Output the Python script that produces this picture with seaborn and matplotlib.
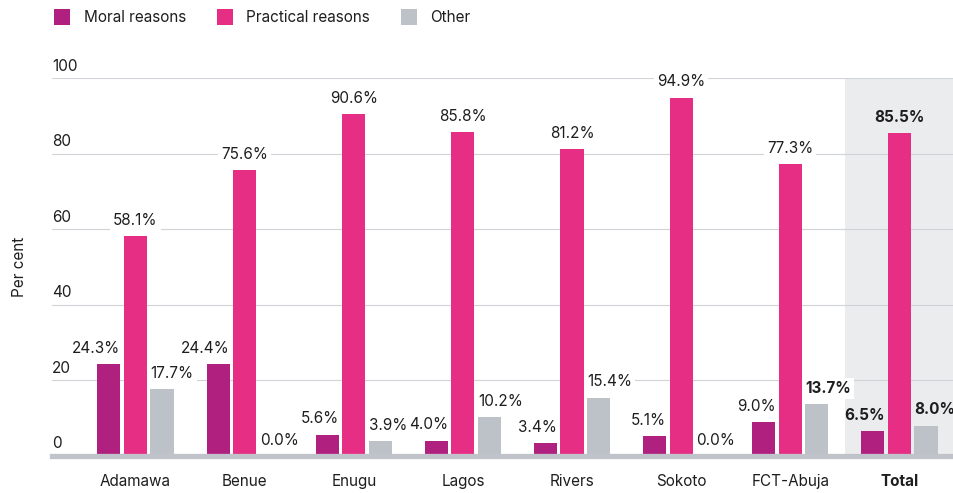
import matplotlib
matplotlib.use("Agg")
import matplotlib.pyplot as plt
from matplotlib.transforms import ScaledTranslation
import seaborn as sns
import pandas as pd

# Data
regions = ["Adamawa", "Benue", "Enugu", "Lagos", "Rivers", "Sokoto", "FCT-Abuja", "Total"]
moral = [24.3, 24.4, 5.6, 4.0, 3.4, 5.1, 9.0, 6.5]
practical = [58.1, 75.6, 90.6, 85.8, 81.2, 94.9, 77.3, 85.5]
other = [17.7, 0.0, 3.9, 10.2, 15.4, 0.0, 13.7, 8.0]
series = ["Moral reasons", "Practical reasons", "Other"]
yticks = [0, 20, 40, 60, 80, 100]
bold_labels = {("FCT-Abuja", "Other")}

colors = ["#B0207F", "#E62E84", "#BDC1C8"]
text_color = "#1E1E1E"

sns.set_theme(style="white")
plt.rcParams["font.family"] = ["Inter", "DejaVu Sans"]
plt.rcParams["text.color"] = text_color

df = pd.DataFrame({
    "Region": regions * 3,
    "Reason": [s for s in series for _ in regions],
    "Value": moral + practical + other,
})

fig = plt.figure(figsize=(9.54, 4.93), dpi=100)
ax = fig.add_axes([52 / 954, 37.3 / 493, 902 / 954, 377.4 / 493])

# Highlight band behind the total group
ax.axvspan(6.5, 7.5, color="#EBECEE", zorder=0, lw=0)

sns.barplot(data=df, x="Region", y="Value", hue="Reason", order=regions,
            hue_order=series, palette=colors, width=0.73, gap=0.13,
            errorbar=None, saturation=1, ax=ax, zorder=2,
            edgecolor="none", linewidth=0)

ax.set_xlim(-0.765, 7.5)
ax.set_ylim(0, 100)

# Grid and baseline
ax.set_yticks(yticks)
ax.yaxis.grid(True, color="#D0D3D8", lw=0.8, zorder=1)
ax.xaxis.grid(False)
for side in ["top", "right", "left"]:
    ax.spines[side].set_visible(False)
ax.spines["bottom"].set_color("#C0C4CA")
ax.spines["bottom"].set_linewidth(3.8)
ax.spines["bottom"].set_zorder(3)

# Y tick labels sit above their gridlines, inside the plot
ax.tick_params(axis="y", length=0, pad=0, labelsize=11, labelcolor=text_color)
offset = ScaledTranslation(0, 5.5 / 72, fig.dpi_scale_trans)
for lab in ax.get_yticklabels():
    lab.set_ha("left")
    lab.set_va("baseline")
    lab.set_transform(lab.get_transform() + offset)

ax.tick_params(axis="x", length=0, pad=13, labelsize=11, labelcolor=text_color)
for lab in ax.get_xticklabels():
    if lab.get_text() == "Total":
        lab.set_fontweight("bold")

ax.set_xlabel("")
ax.set_ylabel("Per cent", fontsize=11, color=text_color)
ax.yaxis.set_label_coords(-0.028, 0.5)

# Value labels
values = [moral, practical, other]
aligns = ["right", "center", "left"]
for cont, name, vals, ha in zip(ax.containers, series, values, aligns):
    for bar, region, v in zip(cont.patches, regions, vals):
        if ha == "right":
            x = bar.get_x() + bar.get_width()
        elif ha == "left":
            x = bar.get_x()
        else:
            x = bar.get_x() + bar.get_width() / 2
        is_total = region == "Total"
        bold = is_total or (region, name) in bold_labels
        kw = {}
        if not is_total:
            kw["bbox"] = dict(boxstyle="square,pad=0.2", fc="white", ec="none")
        ax.annotate(f"{v:.1f}%", (x, v), xytext=(0, 8), textcoords="offset points",
                    ha=ha, va="baseline", fontsize=11,
                    fontweight="bold" if bold else "normal",
                    color=text_color, zorder=4, annotation_clip=False, **kw)

# Legend across the top
sns.move_legend(ax, loc="upper left", bbox_to_anchor=(48 / 954, 1 - 3 / 493),
                bbox_transform=fig.transFigure, ncol=3, frameon=False, title=None,
                fontsize=11, handlelength=1.05, handleheight=1.2,
                handletextpad=0.9, columnspacing=2.0, borderaxespad=0)

fig.savefig("out.png", dpi=100)
